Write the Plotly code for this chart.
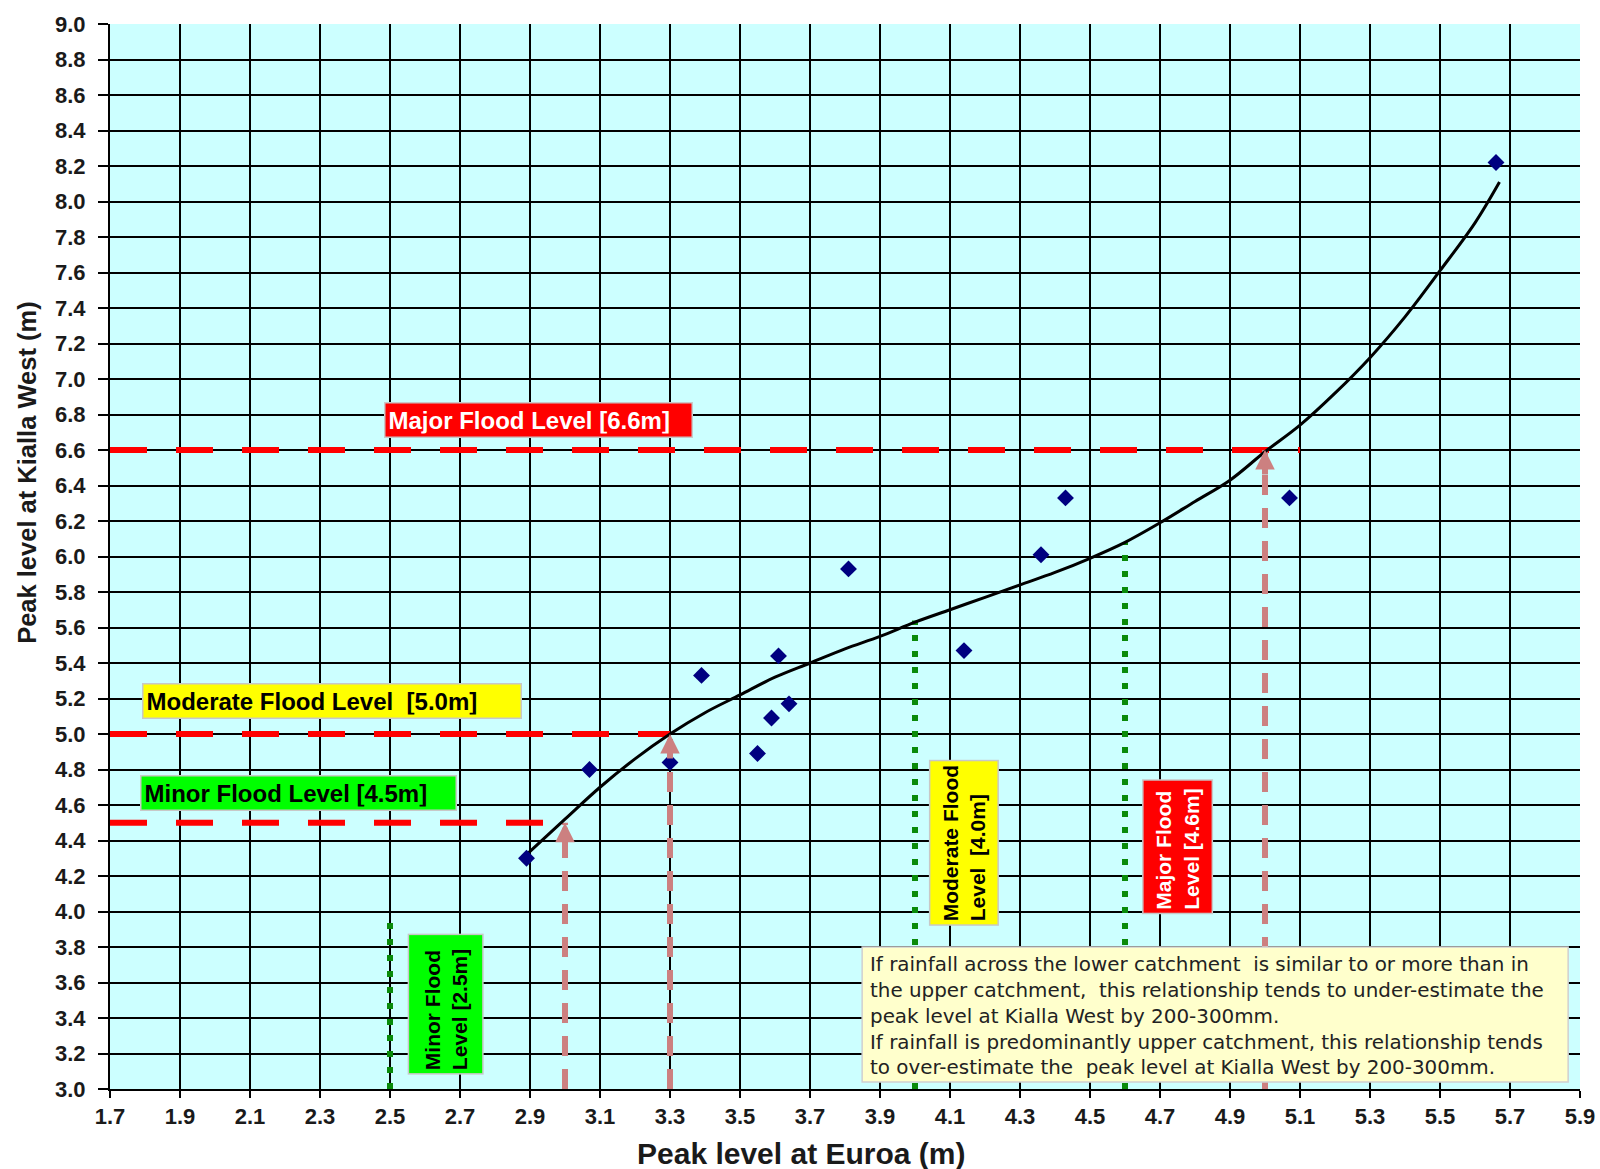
import plotly.graph_objects as go

# ---- data ----
euroa = [2.89, 3.07, 3.30, 3.39, 3.55, 3.59, 3.61, 3.64, 3.81, 4.14, 4.36, 4.43, 5.07, 5.66]
kialla = [4.30, 4.80, 4.84, 5.33, 4.89, 5.09, 5.44, 5.17, 5.93, 5.47, 6.01, 6.33, 6.33, 8.22]

curve_x = [2.89, 3.0, 3.1, 3.2, 3.3, 3.4, 3.5, 3.6, 3.7, 3.8, 3.9, 4.0, 4.1, 4.2, 4.3,
           4.4, 4.5, 4.6, 4.7, 4.8, 4.9, 5.0, 5.1, 5.2, 5.3, 5.4, 5.5, 5.6, 5.67]
curve_y = [4.32, 4.52, 4.70, 4.86, 5.00, 5.12, 5.22, 5.32, 5.40, 5.48, 5.55, 5.63, 5.70, 5.77, 5.84,
           5.91, 5.99, 6.08, 6.19, 6.31, 6.43, 6.59, 6.74, 6.92, 7.12, 7.35, 7.61, 7.88, 8.11]

# Kialla West flood levels (horizontal) and where each line ends on the Euroa axis
kialla_levels = [4.5, 5.0, 6.6]
kialla_line_end = [2.95, 3.3, 5.1]
# Euroa equivalents (vertical arrows)
arrow_x = [3.0, 3.3, 5.0]
# Euroa flood levels (vertical green dotted lines) and their top on the Kialla axis
euroa_levels = [2.5, 4.0, 4.6]
euroa_line_top = [3.97, 5.64, 6.08]

x_min, x_max = 1.7, 5.9
y_min, y_max = 3.0, 9.0

x_title = "Peak level at Euroa (m)"
y_title = "Peak level at Kialla West (m)"

note_lines = [
    "If rainfall across the lower catchment  is similar to or more than in",
    "the upper catchment,  this relationship tends to under-estimate the",
    "peak level at Kialla West by 200-300mm.",
    "If rainfall is predominantly upper catchment, this relationship tends",
    "to over-estimate the  peak level at Kialla West by 200-300mm.",
]

FONT = "Liberation Sans"
ROSY = "#cc8080"
GREEN = "#0a8a0a"

fig = go.Figure()

# horizontal dashed flood lines
for lvl, xe in zip(kialla_levels, kialla_line_end):
    fig.add_trace(go.Scatter(x=[x_min, xe], y=[lvl, lvl], mode="lines",
                             line=dict(color="#ff0000", width=6, dash="37px,29px"),
                             hoverinfo="skip", showlegend=False))

# vertical rosy dashed arrows
for ax_, lvl in zip(arrow_x, kialla_levels):
    fig.add_trace(go.Scatter(x=[ax_, ax_], y=[y_min, lvl], mode="lines",
                             line=dict(color=ROSY, width=6, dash="20px,13px"),
                             hoverinfo="skip", showlegend=False))
    fig.add_annotation(x=ax_, y=lvl, ax=0, ay=26, xref="x", yref="y",
                       showarrow=True, arrowhead=2, arrowwidth=6, arrowsize=0.65,
                       arrowcolor=ROSY, text="")

# green dotted Euroa flood level lines
for ex, top in zip(euroa_levels, euroa_line_top):
    fig.add_trace(go.Scatter(x=[ex, ex], y=[y_min, top], mode="lines",
                             line=dict(color=GREEN, width=6, dash="6px,10px"),
                             hoverinfo="skip", showlegend=False))

# trend curve
fig.add_trace(go.Scatter(x=curve_x, y=curve_y, mode="lines", line_shape="spline",
                         line=dict(color="black", width=3), showlegend=False))

# observed points
fig.add_trace(go.Scatter(x=euroa, y=kialla, mode="markers",
                         marker=dict(symbol="diamond", size=13, color="#000080"),
                         showlegend=False))

hlab = dict(family=FONT, size=24, color="black", weight="bold")
vlab = dict(family=FONT, size=21, color="black", weight="bold")
box = dict(bordercolor="#c8c8c8", borderwidth=1.5, borderpad=3, showarrow=False)

# horizontal labels
fig.add_annotation(x=2.483, y=6.77, xanchor="left", yanchor="middle",
                   text="Major Flood Level [6.6m]", bgcolor="#ff0000", width=300, align="left",
                   font=dict(hlab, color="white"), **box)
fig.add_annotation(x=1.79, y=5.186, xanchor="left", yanchor="middle",
                   text="Moderate Flood Level  [5.0m]", bgcolor="#ffff00", width=371, align="left",
                   font=hlab, **box)
fig.add_annotation(x=1.787, y=4.668, xanchor="left", yanchor="middle",
                   text="Minor Flood Level [4.5m]", bgcolor="#00ff00", width=308, align="left",
                   font=hlab, **box)

# vertical labels
fig.add_annotation(x=2.659, y=3.479, textangle=-90, width=132, height=67, align="left",
                   text="Minor Flood<br>Level [2.5m]", bgcolor="#00ff00", font=vlab, **box)
fig.add_annotation(x=4.141, y=4.389, textangle=-90, width=157, height=61, align="left",
                   text="Moderate Flood<br>Level  [4.0m]", bgcolor="#ffff00", font=vlab, **box)
fig.add_annotation(x=4.749, y=4.363, textangle=-90, width=126, height=62, align="left",
                   text="Major Flood<br>Level [4.6m]", bgcolor="#ff0000",
                   font=dict(vlab, color="white"), **box)

# note box: background rectangle + multi-line text
note_x, note_y = 3.849, 3.80
fig.add_shape(type="rect", layer="above", xref="x", yref="y",
              xsizemode="pixel", ysizemode="pixel", xanchor=note_x, yanchor=note_y,
              x0=0, x1=706, y0=0, y1=-135,
              fillcolor="#ffffcc", line=dict(color="#d0d0d0", width=1.5))
fig.add_annotation(x=note_x, y=note_y, xanchor="left", yanchor="top",
                   xshift=6, yshift=-4, showarrow=False, align="left",
                   text="<br>".join(note_lines),
                   font=dict(family="DejaVu Sans", size=19.9, color="#222222"))

# axis titles (placed as in the reference, not centred on the plot)
fig.add_annotation(xref="paper", yref="paper", x=0.470, y=0, yanchor="middle", yshift=-64,
                   showarrow=False, text=x_title,
                   font=dict(family=FONT, size=30, color="#1a1a1a", weight="bold"))
fig.add_annotation(xref="paper", yref="paper", x=0, xanchor="center", xshift=-82.5,
                   y=0.579, yanchor="middle", textangle=-90, showarrow=False, text=y_title,
                   font=dict(family=FONT, size=25.5, color="#1a1a1a", weight="bold"))

tick_font = dict(family=FONT, size=22, color="#1a1a1a", weight="bold")

fig.update_layout(
    width=1600, height=1169,
    margin=dict(l=110, r=20, t=24, b=80),
    paper_bgcolor="white", plot_bgcolor="#ccffff",
    xaxis=dict(range=[x_min, x_max], tick0=1.7, dtick=0.2, tickformat=".1f",
               showgrid=True, gridcolor="black", gridwidth=1.5,
               showline=True, linecolor="black", linewidth=2,
               ticks="outside", ticklen=7, tickcolor="black", tickwidth=1.5,
               tickfont=tick_font, zeroline=False, automargin=False),
    yaxis=dict(range=[y_min, y_max], tick0=3.0, dtick=0.2, tickformat=".1f",
               showgrid=True, gridcolor="black", gridwidth=1.5,
               showline=True, linecolor="black", linewidth=2,
               ticks="outside", ticklen=10, tickcolor="black", tickwidth=1.5,
               tickfont=tick_font, zeroline=False, ticklabelstandoff=8, automargin=False),
)

fig.write_html("out.html", config={"displayModeBar": False},
               post_script="document.body.style.margin='0px';"
                           "document.body.style.overflow='hidden';")
